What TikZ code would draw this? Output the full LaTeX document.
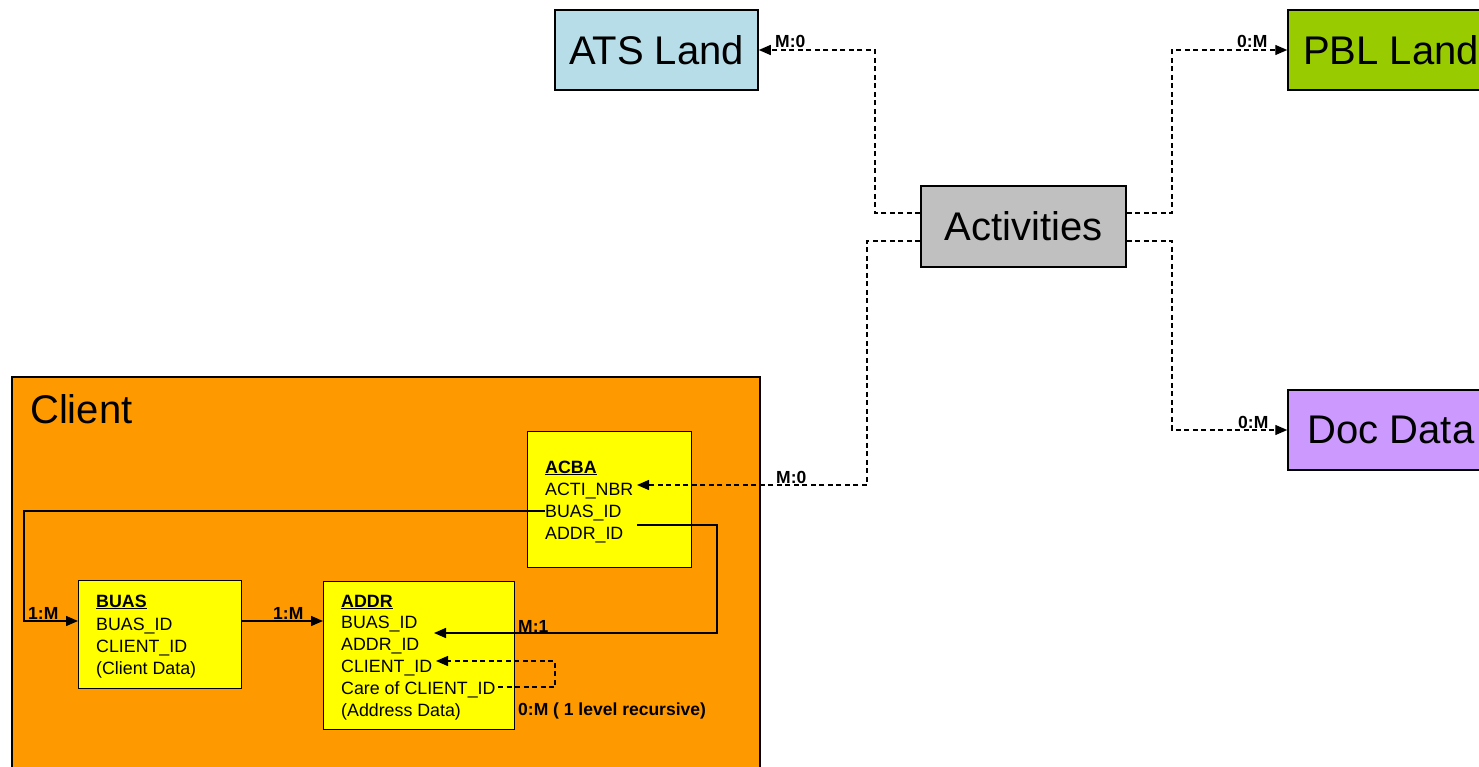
\documentclass[tikz,border=0pt]{standalone}
\usepackage{fontspec}
\setmainfont{Liberation Sans}
\usetikzlibrary{arrows.meta}
\definecolor{atsblue}{HTML}{B7DEE8}
\definecolor{pblgreen}{HTML}{99CC00}
\definecolor{actgray}{HTML}{C0C0C0}
\definecolor{docpurple}{HTML}{CC99FF}
\definecolor{clientorange}{HTML}{FF9900}
\definecolor{entyellow}{HTML}{FFFF00}
\begin{document}
\begin{tikzpicture}[x=1pt,y=-1pt,
  bigbox/.style={draw=black, line width=1.5pt, inner sep=0pt, font=\fontsize{40}{48}\selectfont},
  entity/.style={draw=black, line width=1.4pt, fill=entyellow, anchor=north west, inner sep=0pt},
  field/.style={anchor=base west, inner sep=0pt, font=\fontsize{17.8}{21}\selectfont},
  hdr/.style={field, font=\bfseries\fontsize{17.8}{21}\selectfont},
  lbl/.style={anchor=base west, inner sep=0pt, font=\bfseries\fontsize{17.5}{21}\selectfont},
  rel/.style={line width=1.4pt, -{Triangle[length=12pt,width=10pt]}},
  dashrel/.style={rel, dash pattern=on 5pt off 3.5pt},
]
\useasboundingbox (0,0) rectangle (1479,767);

% big boxes
\node[bigbox, fill=atsblue, minimum width=203pt, minimum height=80pt] (ats) at (656.5,50) {ATS Land};
\node[bigbox, fill=actgray, minimum width=205pt, minimum height=81pt] (act) at (1023.5,226.5) {Activities};
\node[bigbox, fill=pblgreen, minimum width=206pt, minimum height=80pt] (pbl) at (1391,50) {PBL Land};
\node[bigbox, fill=docpurple, minimum width=206pt, minimum height=80pt] (doc) at (1391,430) {Doc Data};

% client container
\node[draw=black, line width=1.5pt, fill=clientorange, anchor=north west, inner sep=0pt,
      minimum width=748pt, minimum height=420pt] (client) at (11,376) {};
\node[anchor=base west, inner sep=0pt, font=\fontsize{40}{48}\selectfont] (clientlbl) at (30,423) {Client};

% entities
\node[entity, minimum width=164pt, minimum height=136pt] (acba) at (527,431) {};
\node[entity, minimum width=163pt, minimum height=108pt] (buas) at (78,580) {};
\node[entity, minimum width=191pt, minimum height=148pt] (addr) at (323,581) {};

% ACBA fields
\node[hdr] (acbah) at (545,473) {\underline{ACBA}};
\node[field] (acbaacti) at (545,495) {ACTI\_NBR};
\node[field] (acbabuas) at (545,517) {BUAS\_ID};
\node[field] (acbaaddr) at (545,539) {ADDR\_ID};

% BUAS fields
\node[hdr] (buash) at (96,607) {\underline{BUAS}};
\node[field] (buasid) at (96,630) {BUAS\_ID};
\node[field] (buascl) at (96,652) {CLIENT\_ID};
\node[field] (buasdata) at (96,674) {(Client Data)};

% ADDR fields
\node[hdr] (addrh) at (341,607) {\underline{ADDR}};
\node[field] (addrbuas) at (341,628) {BUAS\_ID};
\node[field] (addrid) at (341,650) {ADDR\_ID};
\node[field] (addrcl) at (341,672) {CLIENT\_ID};
\node[field] (addrcare) at (341,694) {Care of CLIENT\_ID};
\node[field] (addrdata) at (341,716) {(Address Data)};

% connector end coordinates
\coordinate (actiin) at (637,485);
\coordinate (addridout) at (637,525);
\coordinate (addridin) at (434,633);
\coordinate (careout) at (498,687);
\coordinate (clin) at (436,661);

% Activities relations
\draw[dashrel] (act.west |- 0,213) -- (875,213) -- (875,50) -- (ats.east);
\draw[dashrel] (act.west |- 0,241) -- (867,241) -- (867,485) -- (actiin);
\draw[dashrel] (act.east |- 0,213) -- (1172,213) -- (1172,50) -- (pbl.west);
\draw[dashrel] (act.east |- 0,241) -- (1172,241) -- (1172,430) -- (doc.west);

% client relations
\draw[rel] (acbabuas.west |- 0,511) -- (24,511) -- (24,621) -- (buas.west |- 0,621);
\draw[rel] (buas.east |- 0,621) -- (addr.west |- 0,621);
\draw[rel] (addridout) -- (717,525) -- (717,633) -- (addridin);
\draw[dashrel] (careout) -- (555,687) -- (555,661) -- (clin);

% labels
\node[lbl] (l1) at (775,48) {M:0};
\node[lbl] (l2) at (776,483) {M:0};
\node[lbl] (l3) at (1237,48) {0:M};
\node[lbl] (l4) at (1238,428) {0:M};
\node[lbl] (l5) at (28,619) {1:M};
\node[lbl] (l6) at (273,619) {1:M};
\node[lbl] (l7) at (518,632) {M:1};
\node[lbl] (l8) at (518,715) {0:M ( 1 level recursive)};
\end{tikzpicture}
\end{document}
